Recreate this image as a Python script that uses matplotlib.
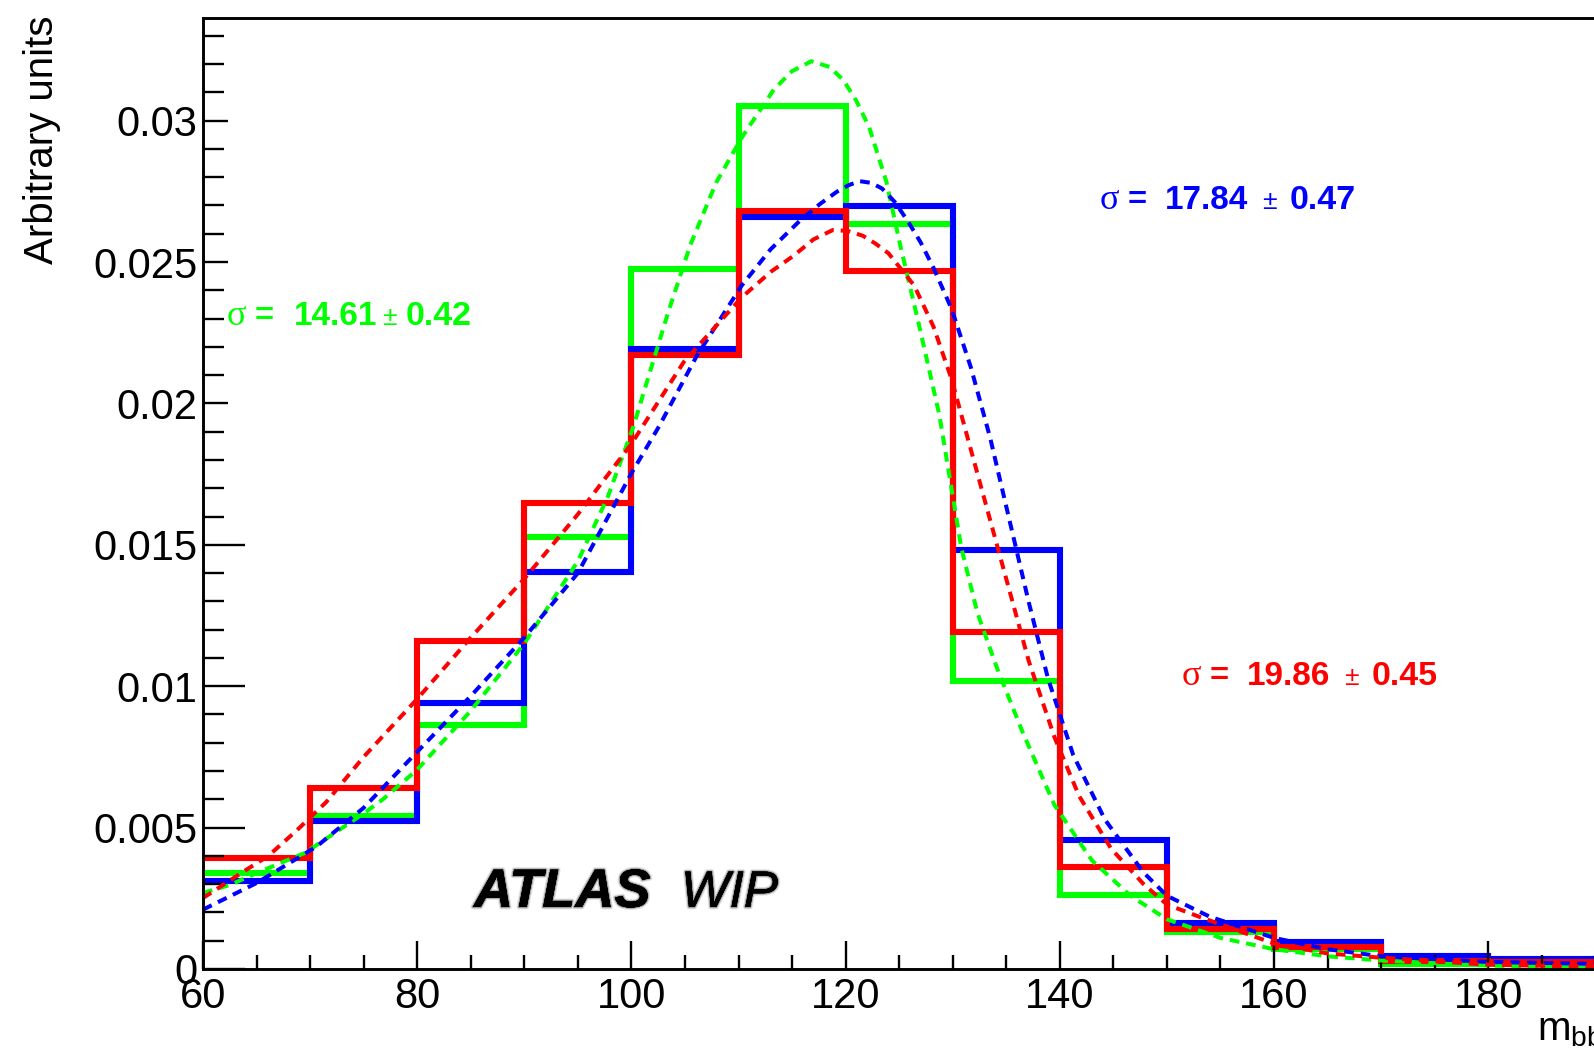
import matplotlib
matplotlib.use("Agg")
import matplotlib.pyplot as plt
import matplotlib.patheffects as pe
import numpy as np
from matplotlib.ticker import MultipleLocator

plt.rcParams["font.family"] = "Liberation Sans"
plt.rcParams["lines.scale_dashes"] = False
plt.rcParams["mathtext.default"] = "regular"

# histogram bins (m_bb, 10 GeV wide)
bin_edges = np.arange(60, 201, 10)

green_hist = [0.00338, 0.00542, 0.00862, 0.01527, 0.02475, 0.0305, 0.02633,
              0.0102, 0.00262, 0.0013, 0.00072, 0.00018, 0.00032, 0.0002]
blue_hist = [0.00311, 0.00524, 0.00941, 0.01404, 0.02191, 0.0266, 0.02699,
             0.0148, 0.00456, 0.00162, 0.00097, 0.00047, 0.00035, 0.0002]
red_hist = [0.00394, 0.00641, 0.0116, 0.01649, 0.0217, 0.02681, 0.02469,
            0.01193, 0.00359, 0.00141, 0.00079, 0.00028, 0.00024, 0.0002]

# fitted curves, sampled
green_fit_x = [60, 62.5, 65.3, 67.5, 69.5, 72.5, 75, 76.8, 80, 85, 90, 95, 97.8,
               100.2, 101.4, 103.5, 105.5, 107.9, 110.3, 113.3, 115, 116.8, 118.5,
               119.8, 121, 122.2, 123.8, 125.1, 126.9, 128.75, 129.6, 130.8, 132.3,
               134.1, 136.5, 139.5, 143, 146.6, 150, 155, 160, 165, 170, 180, 190, 200]
green_fit_y = [0.00269, 0.00297, 0.00344, 0.00379, 0.0041, 0.00486, 0.0055, 0.006,
               0.00705, 0.00913, 0.01151, 0.01442, 0.0167, 0.0192, 0.0207, 0.0233,
               0.0256, 0.0278, 0.0294, 0.0311, 0.03175, 0.0321, 0.0319, 0.03143,
               0.0307, 0.02977, 0.02785, 0.0256, 0.0227, 0.0196, 0.01765, 0.0149,
               0.0126, 0.01068, 0.0084, 0.0058, 0.00384, 0.00259, 0.00176, 0.0011,
               0.0007, 0.00045, 0.0003, 0.00012, 0.00005, 0.00002]

blue_fit_x = [60, 65, 70.6, 75, 80, 85, 90, 95, 100, 102.6, 106.1, 110.3, 113,
              115.7, 117.6, 119.2, 120.3, 121.3, 122.4, 123.4, 124.6, 125.8, 127,
              128.2, 129.9, 131.7, 133.5, 135.3, 137.1, 138.9, 141.25, 144.2,
              147.8, 150, 154, 160, 165, 170, 180, 190, 200]
blue_fit_y = [0.0021, 0.00304, 0.00433, 0.0057, 0.00768, 0.00965, 0.01172, 0.0140,
              0.01753, 0.0192, 0.02168, 0.02417, 0.02545, 0.02645, 0.02705, 0.02749,
              0.02772, 0.02786, 0.0278, 0.0276, 0.02712, 0.02645, 0.0257, 0.0248,
              0.02334, 0.02127, 0.01878, 0.01587, 0.01297, 0.01027, 0.00757, 0.00529,
              0.00342, 0.00259, 0.00185, 0.0011, 0.0007, 0.00045, 0.00025, 0.00018,
              0.00014]

red_fit_x = [60, 64, 66.1, 68.75, 71.5, 75, 80, 85, 90, 95, 100, 104.9, 110.3,
             113, 115.1, 117, 118.8, 120.2, 121.6, 122.8, 124, 126.4, 128.2, 129.9,
             131.7, 133.5, 135.3, 137.1, 139.5, 141.8, 144.8, 147.8, 150, 153, 160,
             165, 170, 180, 190, 200]
red_fit_y = [0.00251, 0.0035, 0.0040, 0.0049, 0.0059, 0.0075, 0.00955, 0.01172,
             0.0138, 0.01608, 0.01857, 0.02147, 0.02375, 0.02465, 0.02521, 0.0258,
             0.02613, 0.0261, 0.02593, 0.02565, 0.02531, 0.02417, 0.02272, 0.02085,
             0.01836, 0.01587, 0.01338, 0.01089, 0.0082, 0.00612, 0.00425, 0.00301,
             0.00228, 0.00185, 0.0009, 0.00055, 0.0004, 0.00015, 0.00008, 0.00004]

xticks = [60, 80, 100, 120, 140, 160, 180, 200]
yticks = [0, 0.005, 0.01, 0.015, 0.02, 0.025, 0.03]
ytick_labels = ["0", "0.005", "0.01", "0.015", "0.02", "0.025", "0.03"]

GREEN, BLUE, RED = "#00ff00", "#0000ff", "#ff0000"

W, H = 1594, 1054
fig = plt.figure(figsize=(W / 100, H / 100), dpi=100)
# frame runs on past the right edge of the canvas
ax = fig.add_axes([203 / W, 85 / H, 1499.4 / W, 951.3 / H])

for hist, fx_, fy_, col in [(green_hist, green_fit_x, green_fit_y, GREEN),
                            (blue_hist, blue_fit_x, blue_fit_y, BLUE),
                            (red_hist, red_fit_x, red_fit_y, RED)]:
    ax.stairs(hist, bin_edges, color=col, lw=4.4, baseline=None)
    ax.plot(fx_, fy_, color=col, lw=2.9, linestyle=(0, (7, 5)))

ax.set_xlim(60, 200)
ax.set_ylim(0, 0.03364)

ax.set_xticks(xticks)
ax.set_xticklabels([str(t) for t in xticks])
ax.xaxis.set_minor_locator(MultipleLocator(5))
ax.set_yticks(yticks)
ax.set_yticklabels(ytick_labels)
ax.yaxis.set_minor_locator(MultipleLocator(0.001))

ax.tick_params(axis="both", which="both", direction="in", width=1.7,
               labelsize=30, top=False, right=False)
ax.tick_params(axis="x", which="major", length=20, pad=6)
ax.tick_params(axis="x", which="minor", length=10)
ax.tick_params(axis="y", which="major", length=30, pad=4)
ax.tick_params(axis="y", which="minor", length=15)
for t, v in zip(ax.yaxis.get_major_ticks(), yticks):
    if v >= 0.02:
        t.tick1line.set_markersize(18)

for s in ax.spines.values():
    s.set_linewidth(2.1)


def px(x, y):
    return x / W, 1 - y / H


def sigma_label(xs, y, val, err, col):
    # pieces: sigma symbol, "=", value, "±", error
    fig.text(*px(xs[0], y), "\u03c3", family="Liberation Serif", fontsize=26,
             color=col, va="baseline", ha="left")
    fig.text(*px(xs[1], y), "=", fontsize=23.5, fontweight="bold",
             color=col, va="baseline", ha="left")
    fig.text(*px(xs[2], y), val, fontsize=24, fontweight="bold",
             color=col, va="baseline", ha="left")
    fig.text(*px(xs[3], y), "\u00b1", fontsize=19,
             color=col, va="baseline", ha="left")
    fig.text(*px(xs[4], y), err, fontsize=24.5, fontweight="bold",
             color=col, va="baseline", ha="left")


sigma_label([227, 255, 294, 382, 406], 325, "14.61", "0.42", GREEN)
sigma_label([1100, 1128, 1165, 1262, 1290], 209, "17.84", "0.47", BLUE)
sigma_label([1182, 1210, 1247, 1344, 1372], 685, "19.86", "0.45", RED)

soft = [pe.withStroke(linewidth=3.5, foreground=(0, 0, 0, 0.12)),
        pe.withStroke(linewidth=1.8, foreground=(0, 0, 0, 0.3)),
        pe.Normal()]
fig.text(*px(474, 907), "ATLAS", fontsize=39, fontweight="bold", style="italic",
         va="baseline", ha="left", path_effects=soft)
fig.text(*px(681, 907), "WIP", fontsize=37, style="italic",
         va="baseline", ha="left", path_effects=soft)

fig.text(*px(42, 16), "Arbitrary units", rotation=90, fontsize=29,
         ha="center", va="top")
fig.text(*px(1537, 1040), r"$m_{bb}$", fontsize=29, ha="left", va="baseline")

fig.savefig("out.png", dpi=100)
